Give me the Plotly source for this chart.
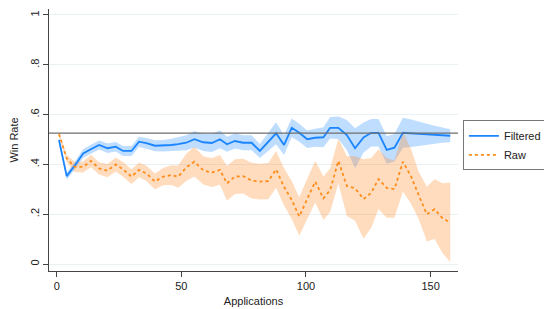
import plotly.graph_objects as go

# Applications (x)
apps = [0.9, 4.0, 7.2, 10.6, 13.7, 17.0, 20.4, 23.7, 26.6, 30.0,
        33.0, 36.0, 39.4, 42.7, 46.0, 48.7, 52.0, 55.2, 58.8, 62.2,
        65.5, 68.3, 71.5, 74.8, 78.2, 81.5, 84.9, 88.0, 91.2, 94.3,
        97.3, 100.5, 103.7, 107.0, 109.7, 113.0, 116.4, 119.7, 123.1, 126.2,
        129.1, 132.4, 135.5, 138.9, 142.2, 145.2, 148.5, 151.6, 154.8, 157.9]

filtered = [0.498, 0.353, 0.395, 0.444, 0.461, 0.478, 0.465, 0.471, 0.454, 0.454,
            0.491, 0.485, 0.475, 0.475, 0.478, 0.481, 0.487, 0.501, 0.489, 0.486,
            0.501, 0.481, 0.494, 0.487, 0.487, 0.454, 0.491, 0.525, 0.478, 0.547,
            0.527, 0.501, 0.507, 0.509, 0.547, 0.547, 0.518, 0.465, 0.508, 0.527,
            0.527, 0.458, 0.467, 0.527, 0.525, 0.523, 0.521, 0.519, 0.517, 0.515]

filtered_hw = [0.012, 0.015, 0.016, 0.017, 0.018, 0.018, 0.019, 0.019, 0.020, 0.020,
               0.020, 0.021, 0.022, 0.023, 0.025, 0.027, 0.030, 0.033, 0.035, 0.036,
               0.036, 0.030, 0.030, 0.030, 0.030, 0.028, 0.035, 0.044, 0.040, 0.037,
               0.036, 0.035, 0.036, 0.040, 0.043, 0.045, 0.060, 0.080, 0.060, 0.055,
               0.055, 0.055, 0.055, 0.060, 0.055, 0.048, 0.042, 0.036, 0.030, 0.026]

raw = [0.522, 0.424, 0.390, 0.390, 0.414, 0.384, 0.375, 0.400, 0.380, 0.351,
       0.378, 0.364, 0.331, 0.351, 0.357, 0.351, 0.388, 0.411, 0.376, 0.367,
       0.378, 0.324, 0.351, 0.353, 0.335, 0.331, 0.333, 0.380, 0.310, 0.257,
       0.191, 0.260, 0.331, 0.264, 0.297, 0.414, 0.313, 0.304, 0.261, 0.286,
       0.341, 0.306, 0.301, 0.411, 0.351, 0.277, 0.200, 0.220, 0.184, 0.167]

raw_hw = [0.010, 0.015, 0.020, 0.022, 0.025, 0.025, 0.027, 0.028, 0.030, 0.030,
          0.030, 0.031, 0.032, 0.035, 0.040, 0.045, 0.055, 0.060, 0.057, 0.058,
          0.060, 0.070, 0.070, 0.070, 0.072, 0.072, 0.073, 0.074, 0.075, 0.076,
          0.077, 0.080, 0.084, 0.087, 0.088, 0.090, 0.120, 0.130, 0.160, 0.140,
          0.120, 0.120, 0.115, 0.120, 0.110, 0.095, 0.110, 0.120, 0.140, 0.160]

ref_line = 0.526

y_ticks = [0, 0.2, 0.4, 0.6, 0.8, 1]
y_ticktext = ["0", ".2", ".4", ".6", ".8", "1"]
x_ticks = [0, 50, 100, 150]

BLUE = "#1a85ff"
ORANGE = "#ff8c1a"

fig = go.Figure()

# Confidence bands
fig.add_trace(go.Scatter(x=apps, y=[v - h for v, h in zip(filtered, filtered_hw)],
                         mode="lines", line=dict(width=0), showlegend=False, hoverinfo="skip"))
fig.add_trace(go.Scatter(x=apps, y=[v + h for v, h in zip(filtered, filtered_hw)],
                         mode="lines", line=dict(width=0), fill="tonexty",
                         fillcolor="rgba(26,133,255,0.28)", showlegend=False, hoverinfo="skip"))
fig.add_trace(go.Scatter(x=apps, y=[v - h for v, h in zip(raw, raw_hw)],
                         mode="lines", line=dict(width=0), showlegend=False, hoverinfo="skip"))
fig.add_trace(go.Scatter(x=apps, y=[v + h for v, h in zip(raw, raw_hw)],
                         mode="lines", line=dict(width=0), fill="tonexty",
                         fillcolor="rgba(255,140,40,0.30)", showlegend=False, hoverinfo="skip"))

# Lines
fig.add_trace(go.Scatter(x=apps, y=filtered, mode="lines", name="Filtered",
                         line=dict(color=BLUE, width=1.8)))
fig.add_trace(go.Scatter(x=apps, y=raw, mode="lines", name="Raw",
                         line=dict(color=ORANGE, width=1.8, dash="dot")))

fig.add_shape(type="line", xref="x domain", yref="y", x0=0, x1=1, y0=ref_line, y1=ref_line,
              line=dict(color="#6e6e6e", width=1.2))

# The page body has an 8px margin, so the figure is 8px smaller and offset.
fig.update_layout(
    width=544, height=301,
    margin=dict(l=41, r=94, t=1, b=38, autoexpand=False),
    paper_bgcolor="white", plot_bgcolor="white",
    font=dict(family="Liberation Sans, Arial, sans-serif", size=11, color="#222"),
    legend=dict(x=1.012, y=0.575, xanchor="left", yanchor="top", traceorder="normal",
                bordercolor="#777", borderwidth=1, bgcolor="white",
                font=dict(size=11), tracegroupgap=0),
    xaxis=dict(range=[-3.1, 161], tickvals=x_ticks, ticks="outside", ticklen=5,
               tickcolor="#444", showline=True, linecolor="#444", linewidth=1,
               showgrid=False, zeroline=False, automargin=False,
               title=dict(text="Applications", standoff=6, font=dict(size=11))),
    yaxis=dict(range=[-0.028, 1.024], tickvals=y_ticks, ticktext=y_ticktext,
               tickangle=-90, ticks="outside", ticklen=5, tickcolor="#444",
               showline=True, linecolor="#444", linewidth=1, automargin=False,
               showgrid=True, gridcolor="#e9f1f3", gridwidth=1, zeroline=False,
               title=dict(text="Win Rate", standoff=8, font=dict(size=11))),
)

fig.write_html("out.html")
